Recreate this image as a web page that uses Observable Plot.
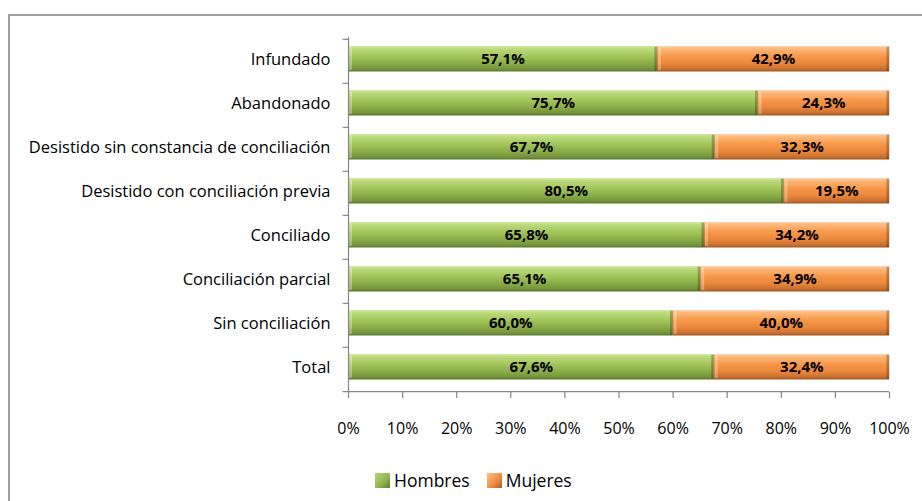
<!DOCTYPE html>
<html>
<head>
<meta charset="utf-8">
<script src="https://cdn.jsdelivr.net/npm/d3@7"></script>
<script src="https://cdn.jsdelivr.net/npm/@observablehq/plot@0.6"></script>
<style>
  html, body { margin: 0; padding: 0; background: #fff; }
  #wrap { position: relative; width: 922px; height: 501px; overflow: hidden; font-family: "Open Sans", Lato, sans-serif; }
  #frame { position: absolute; left: 8px; top: 14px; width: 1000px; height: 600px; border: 2px solid #a0a0a0; box-sizing: border-box; }
  #chart { position: absolute; left: 0; top: 0; }
  #legend { position: absolute; left: 375px; top: 468px; display: flex; align-items: center; font-size: 17.5px; color: #000; }
  .sw { width: 15px; height: 15px; margin-right: 4px; box-sizing: border-box; }
  .item { display: flex; align-items: center; margin-right: 17px; }
</style>
</head>
<body>
<div id="wrap">
  <div id="frame"></div>
  <div id="chart"></div>
  <div id="legend"></div>
</div>
<script>
const categories = [
  "Infundado",
  "Abandonado",
  "Desistido sin constancia de conciliación",
  "Desistido con conciliación previa",
  "Conciliado",
  "Conciliación parcial",
  "Sin conciliación",
  "Total"
];
const series = ["Hombres", "Mujeres"];
const hombres = [57.1, 75.7, 67.7, 80.5, 65.8, 65.1, 60.0, 67.6];
const mujeres = [42.9, 24.3, 32.3, 19.5, 34.2, 34.9, 40.0, 32.4];
const xTicks = [0, 10, 20, 30, 40, 50, 60, 70, 80, 90, 100];

const rows = [];
categories.forEach((c, i) => {
  rows.push({cat: c, sexo: "Hombres", value: hombres[i]});
  rows.push({cat: c, sexo: "Mujeres", value: mujeres[i]});
});

const fmt = v => v.toFixed(1).replace(".", ",") + "%";
const H = 450;
const bw = (392 - 37) / categories.length;

const plot = Plot.plot({
  width: 922,
  height: H,
  marginTop: 37,
  marginBottom: H - 392,
  marginLeft: 348,
  marginRight: 33,
  style: {fontFamily: "'Open Sans', Lato, sans-serif", background: "transparent"},
  x: {domain: [0, 100], label: null},
  y: {domain: categories, padding: 0, label: null},
  color: {domain: series, range: ["url(#gH)", "url(#gM)"]},
  marks: [
    Plot.barX(rows, Plot.stackX({x: "value", y: "cat", fill: "sexo", order: series, insetTop: 7, insetBottom: 11.5})),
    Plot.tickX(rows, Plot.stackX1({x: "value", y: "cat", z: "sexo", order: series, insetTop: 8.5, insetBottom: 13, dx: 2, stroke: "rgba(255,255,255,0.3)", strokeWidth: 3})),
    Plot.tickX(rows, Plot.stackX2({x: "value", y: "cat", z: "sexo", order: series, insetTop: 7.5, insetBottom: 12, dx: -1.5, stroke: "rgba(60,30,0,0.3)", strokeWidth: 3})),
    Plot.text(rows, Plot.stackX({x: "value", y: "cat", z: "sexo", order: series, text: d => fmt(d.value), dy: -2, fontWeight: "bold", fontSize: 15, fill: "#000"})),
    Plot.ruleX([0], {stroke: "#868686", strokeWidth: 1.2}),
    Plot.ruleY(categories, {y: d => d, x1: -1, x2: 0, dy: -bw / 2, stroke: "#868686", strokeWidth: 1.2}),
    Plot.ruleY([categories[categories.length - 1]], {y: d => d, x1: -1, x2: 100, dy: bw / 2, stroke: "#868686", strokeWidth: 1.2}),
    Plot.axisX({ticks: xTicks, tickFormat: d => d + "%", tickSize: 6, tickPadding: 24, fontSize: 16, stroke: "#868686", fill: "#000", strokeWidth: 1.2, label: null}),
    Plot.axisY({tickSize: 0, tickPadding: 18, fontSize: 16.5, fill: "#000", dy: -2, label: null})
  ]
});

const defs = `
<defs>
  <linearGradient id="gH" x1="0" y1="0" x2="0" y2="1">
    <stop offset="0" stop-color="#d6eaa6"/>
    <stop offset="0.1" stop-color="#bddb7f"/>
    <stop offset="0.4" stop-color="#a2c65a"/>
    <stop offset="0.7" stop-color="#89ab47"/>
    <stop offset="0.9" stop-color="#73943b"/>
    <stop offset="1" stop-color="#5a762e"/>
  </linearGradient>
  <linearGradient id="gM" x1="0" y1="0" x2="0" y2="1">
    <stop offset="0" stop-color="#fdd8b4"/>
    <stop offset="0.1" stop-color="#fbb97c"/>
    <stop offset="0.4" stop-color="#f89849"/>
    <stop offset="0.7" stop-color="#e8863a"/>
    <stop offset="0.9" stop-color="#c87130"/>
    <stop offset="1" stop-color="#9e5824"/>
  </linearGradient>
</defs>`;
plot.insertAdjacentHTML("afterbegin", defs);
document.getElementById("chart").appendChild(plot);

const legend = document.getElementById("legend");
const swatchBg = {
  Hombres: "linear-gradient(135deg, #b5d57a, #8fb24c 60%, #5f7a31)",
  Mujeres: "linear-gradient(135deg, #fbbf8a, #f08a3e 60%, #a85c25)"
};
series.forEach(s => {
  const it = document.createElement("div");
  it.className = "item";
  const sw = document.createElement("div");
  sw.className = "sw";
  sw.style.background = swatchBg[s];
  const t = document.createElement("span");
  t.textContent = s;
  it.appendChild(sw);
  it.appendChild(t);
  legend.appendChild(it);
});
</script>
</body>
</html>
